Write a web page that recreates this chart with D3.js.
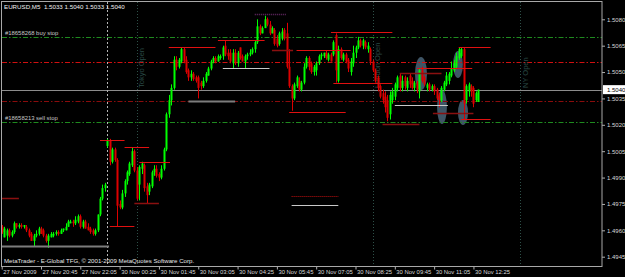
<!DOCTYPE html>
<html>
<head>
<meta charset="utf-8">
<script src="https://cdn.jsdelivr.net/npm/d3@7"></script>
<style>
body { margin: 0; background: #000; }
svg { display: block; }
text { font-family: "Liberation Sans", Arial, sans-serif; }
</style>
</head>
<body>
<svg id="canvas"></svg>
<script>
// EURUSD M5, 27 Nov 2009 19:25 .. 30 Nov 2009 12:35 (bar index 0..194)
let opens = [
1.4962,1.4956,1.4957,1.4960,1.4957,1.4959,1.4964,1.4962,1.4963,1.4962,
1.4962,1.4960,1.4958,1.4954,1.4957,1.4958,1.4961,1.4960,1.4957,1.4954,
1.4956,1.4957,1.4958,1.4959,1.4958,1.4960,1.4960,1.4962,1.4964,1.4965,
1.4964,1.4965,1.4968,1.4962,1.4965,1.4962,1.4961,1.4960,1.4958,1.4960,
1.4969,1.4978,1.4984,1.5008,1.5011,1.4999,1.5006,1.5000,1.4975,1.4973,
1.4981,1.4988,1.4992,1.4997,1.5005,1.4994,1.4986,1.4995,1.4997,1.4985,
1.4982,1.4985,1.4993,1.4995,1.4992,1.4990,1.4995,1.5006,1.5026,1.5034,
1.5041,1.5057,1.5053,1.5056,1.5063,1.5057,1.5051,1.5047,1.5049,1.5047,
1.5047,1.5044,1.5042,1.5045,1.5048,1.5052,1.5056,1.5058,1.5056,1.5058,
1.5059,1.5065,1.5061,1.5061,1.5055,1.5061,1.5055,1.5064,1.5059,1.5056,
1.5059,1.5060,1.5061,1.5063,1.5067,1.5076,1.5072,1.5075,1.5080,1.5077,
1.5072,1.5074,1.5069,1.5066,1.5069,1.5074,1.5072,1.5053,1.5042,1.5035,
1.5042,1.5045,1.5040,1.5044,1.5053,1.5058,1.5055,1.5050,1.5051,1.5055,
1.5059,1.5059,1.5061,1.5057,1.5060,1.5060,1.5071,1.5045,1.5063,1.5057,
1.5060,1.5057,1.5050,1.5055,1.5061,1.5064,1.5068,1.5065,1.5067,1.5063,
1.5063,1.5056,1.5051,1.5047,1.5042,1.5038,1.5036,1.5034,1.5026,1.5034,
1.5036,1.5041,1.5048,1.5041,1.5047,1.5041,1.5048,1.5045,1.5041,1.5044,
1.5039,1.5051,1.5047,1.5041,1.5043,1.5040,1.5042,1.5040,1.5036,1.5034,
1.5040,1.5043,1.5045,1.5048,1.5051,1.5053,1.5058,1.5059,1.5063,1.5034,
1.5039,1.5042,1.5041,1.5034,1.5033
];
let highs = [
1.4963,1.4962,1.4961,1.4961,1.4960,1.4965,1.4964,1.4964,1.4964,1.4963,
1.4963,1.4961,1.4959,1.4958,1.4960,1.4962,1.4962,1.4961,1.4958,1.4958,
1.4959,1.4959,1.4960,1.4960,1.4961,1.4961,1.4964,1.4966,1.4966,1.4966,
1.4968,1.4969,1.4969,1.4966,1.4966,1.4964,1.4962,1.4961,1.4961,1.4969,
1.4979,1.4986,1.4987,1.5012,1.5012,1.5007,1.5007,1.5001,1.4977,1.4983,
1.4989,1.4994,1.4999,1.5007,1.5006,1.4996,1.4997,1.4999,1.4998,1.4987,
1.4987,1.4994,1.4997,1.4997,1.4993,1.4997,1.5007,1.5027,1.5037,1.5043,
1.5059,1.5059,1.5058,1.5064,1.5064,1.5059,1.5052,1.5051,1.5050,1.5048,
1.5048,1.5045,1.5047,1.5050,1.5053,1.5057,1.5059,1.5059,1.5060,1.5060,
1.5065,1.5068,1.5063,1.5063,1.5063,1.5063,1.5062,1.5064,1.5060,1.5060,
1.5061,1.5063,1.5064,1.5068,1.5080,1.5077,1.5076,1.5082,1.5081,1.5079,
1.5076,1.5075,1.5071,1.5073,1.5075,1.5075,1.5078,1.5063,1.5043,1.5044,
1.5048,1.5047,1.5045,1.5055,1.5059,1.5059,1.5056,1.5054,1.5056,1.5060,
1.5061,1.5061,1.5062,1.5061,1.5061,1.5068,1.5072,1.5065,1.5064,1.5061,
1.5061,1.5058,1.5058,1.5065,1.5065,1.5070,1.5069,1.5069,1.5068,1.5067,
1.5064,1.5057,1.5052,1.5048,1.5043,1.5040,1.5039,1.5037,1.5039,1.5041,
1.5044,1.5048,1.5049,1.5048,1.5048,1.5047,1.5049,1.5047,1.5045,1.5045,
1.5052,1.5053,1.5048,1.5044,1.5044,1.5043,1.5043,1.5041,1.5038,1.5042,
1.5045,1.5050,1.5050,1.5056,1.5057,1.5061,1.5064,1.5064,1.5064,1.5043,
1.5044,1.5043,1.5042,1.5039,1.5040
];
let lows = [
1.4958,1.4956,1.4954,1.4956,1.4956,1.4958,1.4961,1.4961,1.4961,1.4961,
1.4959,1.4956,1.4954,1.4951,1.4956,1.4957,1.4958,1.4956,1.4953,1.4950,
1.4956,1.4956,1.4957,1.4957,1.4958,1.4959,1.4960,1.4962,1.4964,1.4962,
1.4963,1.4964,1.4961,1.4961,1.4961,1.4960,1.4958,1.4957,1.4957,1.4959,
1.4968,1.4977,1.4982,1.5007,1.4997,1.4998,1.4999,1.4962,1.4972,1.4972,
1.4979,1.4986,1.4991,1.4996,1.4993,1.4977,1.4977,1.4992,1.4982,1.4975,
1.4980,1.4984,1.4991,1.4990,1.4988,1.4989,1.4994,1.5005,1.5024,1.5031,
1.5040,1.5051,1.5052,1.5055,1.5055,1.5049,1.5045,1.5045,1.5045,1.5044,
1.5035,1.5040,1.5041,1.5044,1.5048,1.5051,1.5055,1.5055,1.5056,1.5057,
1.5057,1.5059,1.5057,1.5055,1.5052,1.5054,1.5053,1.5057,1.5056,1.5052,
1.5057,1.5059,1.5060,1.5061,1.5066,1.5071,1.5072,1.5075,1.5076,1.5071,
1.5072,1.5065,1.5064,1.5065,1.5068,1.5068,1.5052,1.5041,1.5028,1.5034,
1.5041,1.5039,1.5039,1.5043,1.5052,1.5051,1.5049,1.5048,1.5048,1.5054,
1.5057,1.5058,1.5057,1.5056,1.5056,1.5059,1.5044,1.5044,1.5057,1.5056,
1.5055,1.5050,1.5048,1.5053,1.5058,1.5063,1.5064,1.5063,1.5063,1.5061,
1.5054,1.5050,1.5044,1.5039,1.5035,1.5032,1.5027,1.5022,1.5023,1.5032,
1.5034,1.5039,1.5039,1.5039,1.5040,1.5039,1.5041,1.5040,1.5039,1.5038,
1.5035,1.5044,1.5042,1.5039,1.5039,1.5039,1.5037,1.5034,1.5030,1.5033,
1.5039,1.5042,1.5043,1.5047,1.5050,1.5052,1.5057,1.5058,1.5023,1.5032,
1.5036,1.5036,1.5030,1.5033,1.5033
];
let closes = [
1.4959,1.4961,1.4960,1.4957,1.4959,1.4964,1.4962,1.4963,1.4962,1.4963,
1.4960,1.4957,1.4954,1.4957,1.4958,1.4961,1.4958,1.4957,1.4954,1.4957,
1.4958,1.4958,1.4959,1.4958,1.4960,1.4961,1.4962,1.4965,1.4965,1.4964,
1.4966,1.4968,1.4962,1.4965,1.4961,1.4960,1.4959,1.4958,1.4960,1.4969,
1.4978,1.4984,1.4986,1.5011,1.4999,1.5006,1.5000,1.4974,1.4973,1.4981,
1.4988,1.4993,1.4998,1.5005,1.4994,1.4978,1.4996,1.4998,1.4984,1.4980,
1.4986,1.4993,1.4995,1.4991,1.4990,1.4995,1.5006,1.5026,1.5034,1.5041,
1.5057,1.5053,1.5057,1.5063,1.5056,1.5050,1.5047,1.5049,1.5046,1.5045,
1.5041,1.5042,1.5045,1.5049,1.5052,1.5056,1.5058,1.5056,1.5059,1.5059,
1.5064,1.5060,1.5059,1.5056,1.5061,1.5055,1.5061,1.5058,1.5056,1.5059,
1.5060,1.5061,1.5063,1.5067,1.5076,1.5072,1.5075,1.5080,1.5077,1.5072,
1.5075,1.5066,1.5065,1.5072,1.5073,1.5069,1.5053,1.5042,1.5035,1.5043,
1.5047,1.5040,1.5044,1.5053,1.5058,1.5053,1.5050,1.5053,1.5055,1.5059,
1.5060,1.5061,1.5058,1.5060,1.5056,1.5067,1.5051,1.5063,1.5058,1.5060,
1.5056,1.5052,1.5056,1.5061,1.5064,1.5068,1.5065,1.5068,1.5064,1.5065,
1.5056,1.5051,1.5045,1.5041,1.5036,1.5034,1.5030,1.5024,1.5037,1.5039,
1.5043,1.5047,1.5041,1.5045,1.5042,1.5045,1.5043,1.5041,1.5044,1.5040,
1.5051,1.5045,1.5043,1.5043,1.5040,1.5042,1.5039,1.5035,1.5034,1.5041,
1.5044,1.5048,1.5049,1.5052,1.5055,1.5059,1.5063,1.5063,1.5032,1.5042,
1.5043,1.5039,1.5032,1.5038,1.5040
];

let timeTickBars = [0, 16, 32, 48, 64, 80, 96, 112, 128, 144, 160, 176, 192];
let timeTickLabels = ['27 Nov 2009', '27 Nov 20:45', '27 Nov 22:05', '30 Nov 00:25', '30 Nov 01:45',
    '30 Nov 03:05', '30 Nov 04:25', '30 Nov 05:45', '30 Nov 07:05', '30 Nov 08:25',
    '30 Nov 09:45', '30 Nov 11:05', '30 Nov 12:25'];
let priceTicks = [1.5080, 1.5065, 1.5050, 1.5035, 1.5020, 1.5005, 1.4990, 1.4975, 1.4960, 1.4945];

// drawn objects: [price, fromBar, toBar]
let redSegments = [[1.50640, 68, 87], [1.50681, 88, 107], [1.50624, 120, 142], [1.50730, 134, 159],
    [1.50436, 135, 159], [1.50271, 117, 140], [1.50113, 40, 50], [1.50072, 50, 60], [1.49987, 56, 68.5],
    [1.49624, 44, 54], [1.50640, 186, 199], [1.50521, 169, 191.5], [1.50232, 187, 199]];
let darkRedSegments = [[1.49785, 0, 7], [1.49757, 54, 64], [1.50627, 110, 118.6], [1.50492, 162, 179],
    [1.50203, 155, 170], [1.50265, 175.5, 192]];
let dottedRedSegments = [[1.49795, 118, 137]];
let purpleSegments = [[1.50832, 103, 116]];
let graySegments = [[1.49512, 0, 43.7], [1.50335, 76, 95]];
let silverSegments = [[1.50521, 90, 109], [1.50310, 160, 181.6], [1.49742, 118, 137]];
// ellipses: [bar1, price1, bar2, price2]
let ellipses = [[168.2, 1.50585, 173.1, 1.50397], [177.2, 1.50398, 181.2, 1.50204],
    [183.7, 1.50620, 187.7, 1.50466], [185.7, 1.50341, 189.8, 1.50199]];

let orderLevels = [1.50698, 1.50218];
let orderNames = ['#18658268 buy stop', '#18658213 sell stop'];
let redLevels = [1.50555, 1.50337];

let separatorBar = 43;
let sessionBars = [55, 151, 211];
let sessionNames = ['Tokyo Open', 'London Open', 'NY Open'];

let symbol = 'EURUSD,M5';
let copyright = 'MetaTrader - E-Global TFG, \u00a9 2001-2009 MetaQuotes Software Corp.';

let width = 625;
let height = 277;
let plotLeft = 2;
let plotRight = 602;
let plotTop = 2;
let plotBottom = 266.5;

let canvas = d3.select('#canvas');
canvas.attr('width', width);
canvas.attr('height', height);

let xScale = d3.scaleLinear().domain([0, 244]).range([1.7, 601.2]);
let yScale = d3.scaleLinear().domain([1.4945, 1.5080]).range([256.7, 19.3]);
let fmt = d3.format('.4f');

canvas.append('rect').attr('width', width).attr('height', height).attr('fill', '#000');

canvas.append('clipPath').attr('id', 'clip')
      .append('rect').attr('x', plotLeft).attr('y', plotTop)
      .attr('width', plotRight - plotLeft).attr('height', plotBottom - plotTop);
let plot = canvas.append('g').attr('clip-path', 'url(#clip)');

let drawEllipses = () => {
    plot.selectAll('ellipse')
        .data(ellipses)
        .enter()
        .append('ellipse')
        .attr('cx', (e) => (xScale(e[0]) + xScale(e[2])) / 2)
        .attr('cy', (e) => (yScale(e[1]) + yScale(e[3])) / 2)
        .attr('rx', (e) => Math.abs(xScale(e[2]) - xScale(e[0])) / 2)
        .attr('ry', (e) => Math.abs(yScale(e[3]) - yScale(e[1])) / 2)
        .attr('fill', '#3f5566');
}

let drawLevels = () => {
    // full width dash-dot lines
    plot.selectAll('.order')
        .data(orderLevels)
        .enter()
        .append('line')
        .attr('x1', plotLeft).attr('x2', plotRight)
        .attr('y1', (p) => Math.round(yScale(p)) + 0.5)
        .attr('y2', (p) => Math.round(yScale(p)) + 0.5)
        .attr('stroke', '#1f8a1f')
        .attr('stroke-dasharray', '5,2,1.5,2');

    plot.selectAll('.redlevel')
        .data(redLevels)
        .enter()
        .append('line')
        .attr('x1', plotLeft).attr('x2', plotRight)
        .attr('y1', (p) => Math.round(yScale(p)) + 0.5)
        .attr('y2', (p) => Math.round(yScale(p)) + 0.5)
        .attr('stroke', (p, i) => i == 0 ? '#d01010' : '#8a0c0c')
        .attr('stroke-dasharray', '5,2,1.5,2');

    // bid line
    plot.append('line')
        .attr('x1', plotLeft).attr('x2', plotRight)
        .attr('y1', Math.round(yScale(closes[closes.length - 1])) + 0.5)
        .attr('y2', Math.round(yScale(closes[closes.length - 1])) + 0.5)
        .attr('stroke', '#8c8c8c');
}

let drawVerticals = () => {
    plot.append('line')
        .attr('x1', Math.round(xScale(separatorBar)) + 0.5)
        .attr('x2', Math.round(xScale(separatorBar)) + 0.5)
        .attr('y1', plotTop).attr('y2', plotBottom)
        .attr('stroke', '#b4b4b4')
        .attr('stroke-dasharray', '2,2');

    plot.selectAll('.session')
        .data(sessionBars)
        .enter()
        .append('line')
        .attr('x1', (b) => Math.round(xScale(b)) + 0.5)
        .attr('x2', (b) => Math.round(xScale(b)) + 0.5)
        .attr('y1', plotTop).attr('y2', plotBottom)
        .attr('stroke', '#2e5048')
        .attr('stroke-dasharray', '1,2');

    plot.selectAll('.sessiontext')
        .data(sessionBars)
        .enter()
        .append('text')
        .attr('transform', (b) => 'translate(' + (xScale(b) + 7.5) + ',88) rotate(-90)')
        .attr('fill', '#2a4a46')
        .attr('font-size', 7.5)
        .text((b, i) => sessionNames[i]);
}

let drawSegments = (data, color, widthPx, dash) => {
    plot.append('g')
        .selectAll('line')
        .data(data)
        .enter()
        .append('line')
        .attr('x1', (s) => xScale(s[1]))
        .attr('x2', (s) => xScale(s[2]))
        .attr('y1', (s) => Math.round(yScale(s[0])) + 0.5)
        .attr('y2', (s) => Math.round(yScale(s[0])) + 0.5)
        .attr('stroke', color)
        .attr('stroke-width', widthPx)
        .attr('stroke-dasharray', dash);
}

let drawCandles = () => {
    let bars = d3.range(opens.length);
    let color = (i) => closes[i] >= opens[i] ? '#00ff00' : '#dd0000';

    plot.append('g')
        .selectAll('line')
        .data(bars)
        .enter()
        .append('line')
        .attr('x1', (i) => Math.round(xScale(i)) + 0.5)
        .attr('x2', (i) => Math.round(xScale(i)) + 0.5)
        .attr('y1', (i) => yScale(highs[i]))
        .attr('y2', (i) => yScale(lows[i]))
        .attr('stroke', color);

    plot.append('g')
        .selectAll('rect')
        .data(bars)
        .enter()
        .append('rect')
        .attr('x', (i) => Math.round(xScale(i)) - 0.5)
        .attr('width', 2)
        .attr('y', (i) => Math.min(yScale(opens[i]), yScale(closes[i])))
        .attr('height', (i) => Math.max(1, Math.abs(yScale(opens[i]) - yScale(closes[i]))))
        .attr('fill', color);
}

let drawAxes = () => {
    let yAxis = d3.axisRight(yScale).tickValues(priceTicks).tickFormat(fmt).tickSize(3);
    let xAxis = d3.axisBottom(xScale).tickValues(timeTickBars)
                  .tickFormat((b, i) => timeTickLabels[i]).tickSize(3);

    let ya = canvas.append('g')
          .call(yAxis)
          .attr('id', 'y-axis')
          .attr('transform', 'translate(' + plotRight + ', 0)');
    ya.select('.domain').remove();
    ya.selectAll('line').attr('stroke', '#b0b0b0');
    ya.selectAll('text').attr('fill', '#d8d8d8').attr('font-size', 6).attr('x', 5)
      .attr('font-family', '"Liberation Sans", Arial, sans-serif');

    let xa = canvas.append('g')
          .call(xAxis)
          .attr('id', 'x-axis')
          .attr('transform', 'translate(0, ' + plotBottom + ')');
    xa.select('.domain').remove();
    xa.selectAll('line').attr('stroke', '#b0b0b0');
    xa.selectAll('text').attr('fill', '#d8d8d8').attr('font-size', 5.9)
      .attr('text-anchor', 'start').attr('x', 1).attr('y', 3).attr('dy', '0.75em')
      .attr('font-family', '"Liberation Sans", Arial, sans-serif');

    // frame
    canvas.append('rect')
          .attr('x', plotLeft - 0.5).attr('y', plotTop - 0.5)
          .attr('width', plotRight - plotLeft + 0.5).attr('height', plotBottom - plotTop + 0.5)
          .attr('fill', 'none').attr('stroke', '#a8a8a8');

    // bid box
    let last = closes[closes.length - 1];
    canvas.append('rect')
          .attr('x', plotRight + 1).attr('y', yScale(last) - 4.5)
          .attr('width', 22).attr('height', 9)
          .attr('fill', '#fff');
    canvas.append('text')
          .attr('x', plotRight + 5).attr('y', yScale(last) + 2.2)
          .attr('font-size', 6).attr('fill', '#000')
          .text(fmt(last));
}

let drawTexts = () => {
    let n = opens.length - 1;
    canvas.append('text')
          .attr('x', 4).attr('y', 9)
          .attr('font-size', 6.2).attr('fill', '#f0f0f0')
          .attr('xml:space', 'preserve')
          .text(symbol + '  ' + [opens[n], highs[n], lows[n], closes[n]].map(fmt).join(' '));

    canvas.selectAll('.ordertext')
          .data(orderLevels)
          .enter()
          .append('text')
          .attr('x', 5)
          .attr('y', (p) => yScale(p) - 2)
          .attr('font-size', 5.9).attr('fill', '#c8c8c8')
          .text((p, i) => orderNames[i]);

    canvas.append('text')
          .attr('x', 4).attr('y', 263)
          .attr('font-size', 6.1).attr('fill', '#e8e8e8')
          .text(copyright);
}

drawEllipses();
drawLevels();
drawVerticals();
drawCandles();
drawSegments(redSegments, '#e01010', 1, null);
drawSegments(darkRedSegments, '#8a1010', 1.5, null);
drawSegments(dottedRedSegments, '#c01010', 1, '1,1');
drawSegments(purpleSegments, '#6a2a6a', 1.5, '1,1');
drawSegments(graySegments, '#7c7c7c', 2, null);
drawSegments(silverSegments, '#c8c8c8', 1, null);
drawAxes();
drawTexts();
</script>
</body>
</html>
